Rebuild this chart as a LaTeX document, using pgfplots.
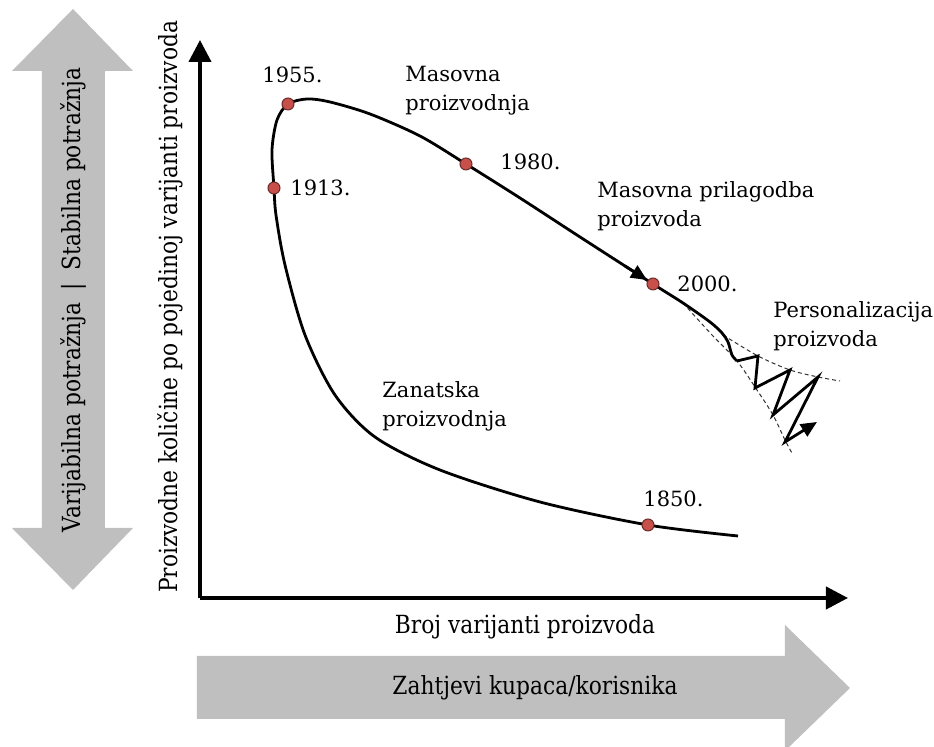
\documentclass[border=0pt]{standalone}
\usepackage{pgfplots}
\pgfplotsset{compat=1.18}
\usetikzlibrary{arrows.meta}
\usepackage{fontspec}
\setmainfont{DejaVu Serif}
\newfontfamily\condfont{DejaVu Serif}[FakeStretch=0.87]
\definecolor{dotred}{HTML}{C8504B}
\definecolor{dotedge}{HTML}{6B2A27}
\definecolor{arrgray}{HTML}{BFBFBF}
\begin{document}
\begin{tikzpicture}
\begin{axis}[
  scale only axis, width=324pt, height=279pt,
  xmin=0, xmax=648, ymin=0, ymax=558,
  axis lines=left,
  axis line style={line width=2pt, -{Triangle[length=11pt,width=11pt]}},
  xtick=\empty, ytick=\empty,
  clip=false,
]
% bounding box
\path (axis cs:-200,-149) (axis cs:734,598);
% grey arrows
\addplot[fill=arrgray, draw=none] coordinates {(-127,589) (-67,527) (-95,527) (-95,70) (-67,70) (-127,8) (-188,70) (-158,70) (-158,527) (-188,527) (-127,589)};
\addplot[fill=arrgray, draw=none] coordinates {(-3,-58) (585,-58) (585,-27) (650,-90) (589,-149) (585,-149) (585,-121) (-3,-121) (-3,-58)};
% dashed envelopes
\addplot[line width=0.5pt, dash pattern=on 2pt off 1.5pt, black!80, smooth] coordinates {(483,295) (512,263) (537,237) (557,208) (573,183) (585,158) (593,143)};
\addplot[line width=0.5pt, dash pattern=on 2pt off 1.5pt, black!80, smooth] coordinates {(523,263) (558,242) (590,228) (618,221) (640,217)};
% main curve
\addplot[line width=1.4pt, smooth] coordinates {
(538,62) (448,73) (340,96) (240,128) (175,161) (135,203) (105,263) (85,333) (76,383) (74,410)
(72,448) (77,478) (88,494) (107,499) (130,496) (170,484) (220,462) (266,434) (320,400) (380,361)
(453,314) (483,295) (510,276) (522,265) (528,256) (532,243) (537,237)};
% zigzag
\addplot[line width=1.4pt, -{Triangle[length=8pt,width=7pt]}] coordinates {(537,237) (558,242) (555,210) (590,228) (573,183) (618,221) (585,156) (617,176)};
% arrow on curve
\addplot[line width=1.4pt, -{Triangle[length=8pt,width=7pt]}] coordinates {(425,332) (447,318)};
% dots
\addplot[only marks, mark=*, mark size=3pt, mark options={fill=dotred, draw=dotedge, line width=0.5pt}] coordinates {(448,73) (74,410) (88,494) (266,434) (453,314)};
% labels
\begin{scope}[every node/.style={font=\fontsize{10.5}{14.5}\selectfont, align=left, inner sep=0pt}]
\node[anchor=west] at (axis cs:62,523) {1955.};
\node[anchor=west] at (axis cs:205,507) {Masovna\\proizvodnja};
\node[anchor=west] at (axis cs:300,436) {1980.};
\node[anchor=west] at (axis cs:90,410) {1913.};
\node[anchor=west] at (axis cs:397,392) {Masovna prilagodba\\proizvoda};
\node[anchor=west] at (axis cs:477,314) {2000.};
\node[anchor=west] at (axis cs:573,272) {Personalizacija\\proizvoda};
\node[anchor=west] at (axis cs:182,192) {Zanatska\\proizvodnja};
\node[anchor=west] at (axis cs:443,99) {1850.};
\end{scope}
\begin{scope}[every node/.style={font=\condfont\fontsize{12.5}{14}\selectfont, inner sep=0pt}]
\node at (axis cs:325,-29) {Broj varijanti proizvoda};
\node at (axis cs:335,-90) {Zahtjevi kupaca/korisnika};
\node[rotate=90] at (axis cs:-30,291) {Proizvodne količine po pojedinoj varijanti proizvoda};
\node[rotate=90] at (axis cs:-127,298) {Varijabilna potražnja\enspace|\enspace Stabilna potražnja};
\end{scope}
\end{axis}
\end{tikzpicture}
\end{document}
